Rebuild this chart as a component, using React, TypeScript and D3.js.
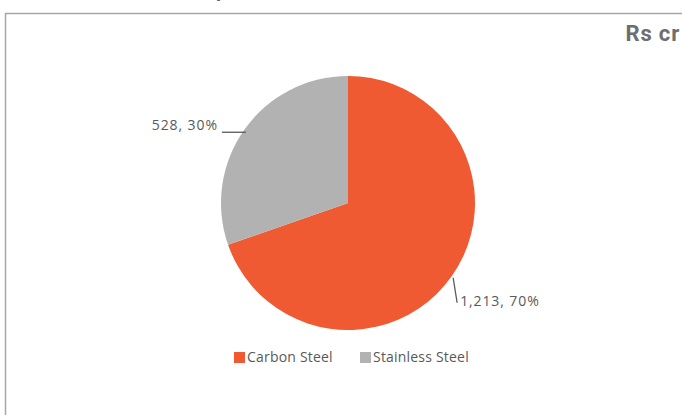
import React from "react";
import * as d3 from "d3";

const categories = ["Carbon Steel", "Stainless Steel"];
const values = [1213, 528];
const percents = [70, 30];
const colors = ["#F05A32", "#B2B2B2"];
const unitLabel = "Rs cr";

const W = 682;
const H = 415;

export default function App() {
  const cx = 348;
  const cy = 203;
  const r = 127;
  const pie = d3.pie<number>().sort(null).value((d) => d).startAngle(0).endAngle(2 * Math.PI);
  const arcs = pie(values);
  const arc = d3.arc<d3.PieArcDatum<number>>().innerRadius(0).outerRadius(r);
  const fmt = d3.format(",");

  const pt = (a: number, rr: number) => [cx + rr * Math.sin(a), cy - rr * Math.cos(a)];

  // label leader layout
  const labels = arcs.map((a, i) => {
    const mid = (a.startAngle + a.endAngle) / 2;
    const right = Math.sin(mid) > 0;
    const [sx, sy] = pt(mid, r + 2);
    const text = `${fmt(values[i])}, ${percents[i]}%`;
    if (right) {
      const ex = sx + 4;
      const ey = sy + 25;
      return { i, text, path: `M${sx},${sy}L${ex},${ey}`, tx: ex + 3, ty: ey + 3, anchor: "start" };
    } else {
      const sy2 = sy + 4;
      const ex = sx - 21;
      return { i, text, path: `M${sx + 3},${sy2}L${ex},${sy2}`, tx: ex - 4, ty: sy2 - 2, anchor: "end" };
    }
  });

  const legendX = [234, 360];
  const legendY = 352;

  return (
    <svg
      width={W}
      height={H}
      style={{ position: "absolute", left: 0, top: 0, background: "#fff" }}
      fontFamily="'Open Sans', sans-serif"
    >
      <text x={216} y={-3} fontSize={20} fontWeight={700} fill="#666" fontFamily="Roboto, sans-serif">p</text>
      <path d={`M5.5,${H}V13.5H${W}`} fill="none" stroke="#A6A6A6" strokeWidth={1.5} />
      <text x={680} y={41} textAnchor="end" fontSize={22} fontWeight={700} fill="#6E6E6E" fontFamily="Roboto, sans-serif" letterSpacing={0.8}>
        {unitLabel}
      </text>
      <g transform={`translate(${cx},${cy})`}>
        {arcs.map((a, i) => (
          <path key={i} d={arc(a) || ""} fill={colors[i]} />
        ))}
      </g>
      {labels.map((l) => (
        <g key={l.i}>
          <path d={l.path} stroke="#595959" strokeWidth={1.3} fill="none" />
          <text x={l.tx} y={l.ty} textAnchor={l.anchor as any} fontSize={14} fill="#595959" letterSpacing={0.9}>
            {l.text}
          </text>
        </g>
      ))}
      {categories.map((c, i) => (
        <g key={c}>
          <rect x={legendX[i]} y={legendY} width={11} height={11} fill={colors[i]} />
          <text x={legendX[i] + 13} y={legendY + 10} fontSize={14} fill="#595959" letterSpacing={0.2}>
            {c}
          </text>
        </g>
      ))}
    </svg>
  );
}
